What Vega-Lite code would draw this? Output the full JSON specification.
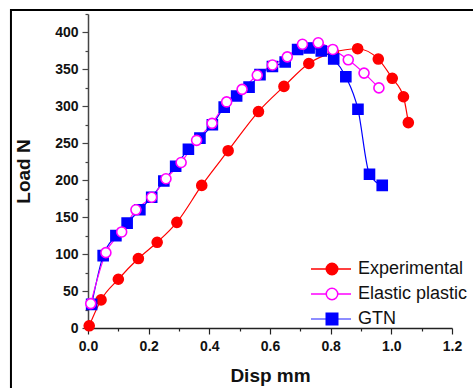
{
  "$schema": "https://vega.github.io/schema/vega-lite/v6.json",
  "width": 364,
  "height": 314,
  "autosize": {"type": "none"},
  "padding": {"left": 88, "top": 14, "right": 21, "bottom": 60},
  "background": "white",
  "config": {"view": {"stroke": null}, "font": "Liberation Sans", "axis": {"labelOverlap": false}},
  "datasets": {
    "curves": [
      {"series": "Experimental", "disp": 0.004, "load": 3},
      {"series": "Experimental", "disp": 0.043, "load": 38},
      {"series": "Experimental", "disp": 0.100, "load": 66},
      {"series": "Experimental", "disp": 0.166, "load": 94},
      {"series": "Experimental", "disp": 0.228, "load": 116},
      {"series": "Experimental", "disp": 0.293, "load": 143},
      {"series": "Experimental", "disp": 0.375, "load": 193},
      {"series": "Experimental", "disp": 0.462, "load": 240},
      {"series": "Experimental", "disp": 0.562, "load": 293},
      {"series": "Experimental", "disp": 0.646, "load": 327},
      {"series": "Experimental", "disp": 0.728, "load": 358},
      {"series": "Experimental", "disp": 0.809, "load": 373},
      {"series": "Experimental", "disp": 0.889, "load": 378},
      {"series": "Experimental", "disp": 0.957, "load": 364},
      {"series": "Experimental", "disp": 1.003, "load": 338},
      {"series": "Experimental", "disp": 1.040, "load": 313},
      {"series": "Experimental", "disp": 1.056, "load": 278},
      {"series": "GTN", "disp": 0.012, "load": 32},
      {"series": "GTN", "disp": 0.050, "load": 98},
      {"series": "GTN", "disp": 0.092, "load": 125},
      {"series": "GTN", "disp": 0.129, "load": 142},
      {"series": "GTN", "disp": 0.171, "load": 160},
      {"series": "GTN", "disp": 0.210, "load": 177},
      {"series": "GTN", "disp": 0.250, "load": 199},
      {"series": "GTN", "disp": 0.289, "load": 219},
      {"series": "GTN", "disp": 0.331, "load": 242},
      {"series": "GTN", "disp": 0.369, "load": 257},
      {"series": "GTN", "disp": 0.410, "load": 275},
      {"series": "GTN", "disp": 0.449, "load": 299},
      {"series": "GTN", "disp": 0.490, "load": 314},
      {"series": "GTN", "disp": 0.531, "load": 326},
      {"series": "GTN", "disp": 0.567, "load": 343},
      {"series": "GTN", "disp": 0.608, "load": 354},
      {"series": "GTN", "disp": 0.650, "load": 360},
      {"series": "GTN", "disp": 0.691, "load": 377},
      {"series": "GTN", "disp": 0.729, "load": 379},
      {"series": "GTN", "disp": 0.769, "load": 375},
      {"series": "GTN", "disp": 0.810, "load": 364},
      {"series": "GTN", "disp": 0.850, "load": 340},
      {"series": "GTN", "disp": 0.890, "load": 296},
      {"series": "GTN", "disp": 0.928, "load": 208},
      {"series": "GTN", "disp": 0.970, "load": 193},
      {"series": "Elastic plastic", "disp": 0.009, "load": 33},
      {"series": "Elastic plastic", "disp": 0.059, "load": 102},
      {"series": "Elastic plastic", "disp": 0.111, "load": 130},
      {"series": "Elastic plastic", "disp": 0.158, "load": 160},
      {"series": "Elastic plastic", "disp": 0.210, "load": 177},
      {"series": "Elastic plastic", "disp": 0.257, "load": 202},
      {"series": "Elastic plastic", "disp": 0.307, "load": 224},
      {"series": "Elastic plastic", "disp": 0.358, "load": 254},
      {"series": "Elastic plastic", "disp": 0.409, "load": 277},
      {"series": "Elastic plastic", "disp": 0.457, "load": 306},
      {"series": "Elastic plastic", "disp": 0.508, "load": 323},
      {"series": "Elastic plastic", "disp": 0.558, "load": 342},
      {"series": "Elastic plastic", "disp": 0.608, "load": 356},
      {"series": "Elastic plastic", "disp": 0.657, "load": 367},
      {"series": "Elastic plastic", "disp": 0.707, "load": 384},
      {"series": "Elastic plastic", "disp": 0.759, "load": 386},
      {"series": "Elastic plastic", "disp": 0.807, "load": 377},
      {"series": "Elastic plastic", "disp": 0.858, "load": 363},
      {"series": "Elastic plastic", "disp": 0.910, "load": 345},
      {"series": "Elastic plastic", "disp": 0.959, "load": 325}
    ]
  },
  "layer": [
    {
      "data": {"values": [{}]},
      "mark": {"type": "rect", "filled": false, "color": "black", "strokeWidth": 2, "clip": false},
      "encoding": {
        "x": {"datum": -0.254, "type": "quantitative"},
        "x2": {"datum": 1.6},
        "y": {"datum": 430.5, "type": "quantitative"},
        "y2": {"datum": -200}
      }
    },
    {
      "data": {"name": "curves"},
      "mark": {"type": "line", "interpolate": "monotone", "strokeWidth": 1.2},
      "encoding": {
        "x": {
          "field": "disp", "type": "quantitative",
          "scale": {"domain": [0, 1.2], "nice": false, "zero": false},
          "axis": {
            "values": [0, 0.1, 0.2, 0.3, 0.4, 0.5, 0.6, 0.7, 0.8, 0.9, 1.0, 1.1, 1.2],
            "tickCount": 100,
            "labelExpr": "round(datum.value*10) % 2 == 0 ? format(datum.value, '.1f') : ''",
            "tickSize": {"condition": {"test": "round(datum.value*10) % 2 == 0", "value": 6}, "value": 3},
            "grid": false,
            "labelOverlap": false,
            "labelFlush": false,
            "labelFont": "Liberation Sans", "labelFontSize": 14, "labelFontWeight": "bold", "labelColor": "#111",
            "labelPadding": 5,
            "domainColor": "#222", "domainWidth": 1.5, "tickColor": "#222", "tickWidth": 1.2,
            "title": "Disp mm",
            "titleFont": "Liberation Sans", "titleFontSize": 19, "titleFontWeight": "bold", "titleColor": "#111",
            "titlePadding": 13
          }
        },
        "y": {
          "field": "load", "type": "quantitative",
          "scale": {"domain": [0, 425], "nice": false, "zero": false},
          "axis": {
            "values": [0, 25, 50, 75, 100, 125, 150, 175, 200, 225, 250, 275, 300, 325, 350, 375, 400, 425],
            "tickCount": 100,
            "labelExpr": "datum.value % 50 == 0 ? datum.label : ''",
            "tickSize": {"condition": {"test": "datum.value % 50 == 0", "value": 6}, "value": 3},
            "grid": false,
            "labelOverlap": false,
            "labelFlush": false,
            "labelFont": "Liberation Sans", "labelFontSize": 14, "labelFontWeight": "bold", "labelColor": "#111",
            "labelPadding": 4,
            "domainColor": "#444", "domainWidth": 1.5, "tickColor": "#444", "tickWidth": 1.2,
            "title": "Load N",
            "titleFont": "Liberation Sans", "titleFontSize": 19, "titleFontWeight": "bold", "titleColor": "#111",
            "titlePadding": 21
          }
        },
        "color": {
          "field": "series", "type": "nominal",
          "scale": {"domain": ["Experimental", "Elastic plastic", "GTN"], "range": ["#ff0000", "#ff00ff", "#0000ff"]},
          "legend": {
            "orient": "none", "legendX": 222, "legendY": 246,
            "title": null, "padding": 0,
            "labelFont": "Liberation Sans", "labelFontSize": 18, "labelFontWeight": "normal", "labelColor": "#111",
            "symbolType": "stroke", "symbolSize": 1600, "symbolStrokeWidth": 1.3,
            "clipHeight": 18, "labelOffset": 6, "rowPadding": 7,
            "encoding": {
              "symbols": {
                "strokeOpacity": {"value": {"expr": "datum.value === 'GTN' ? 0.6 : 1"}}
              }
            }
          }
        }
      }
    },
    {
      "data": {"name": "curves"},
      "mark": {"type": "point", "strokeWidth": 1.6, "opacity": 1, "fillOpacity": 1, "size": 100},
      "encoding": {
        "x": {"field": "disp", "type": "quantitative"},
        "y": {"field": "load", "type": "quantitative"},
        "shape": {
          "field": "series", "type": "nominal",
          "sort": ["Experimental", "Elastic plastic", "GTN"],
          "scale": {"range": ["circle", "circle", "square"]},
          "legend": {
            "orient": "none", "legendX": 235, "legendY": 246,
            "title": null, "padding": 0, "zindex": 1,
            "labelFont": "Liberation Sans", "labelFontSize": 18, "labelExpr": "''",
            "symbolSize": 132, "symbolStrokeWidth": 1.5,
            "clipHeight": 18, "labelOffset": 20, "rowPadding": 7,
            "encoding": {
              "symbols": {
                "fill": {"value": {"expr": "datum.value === 'GTN' ? '#0000ff' : datum.value === 'Experimental' ? '#ff0000' : '#ffffff'"}},
                "stroke": {"value": {"expr": "datum.value === 'GTN' ? '#0000ff' : datum.value === 'Experimental' ? '#ff0000' : '#ff00ff'"}},
                "fillOpacity": {"value": 1},
                "opacity": {"value": 1},
                "strokeWidth": {"value": 1.5}
              }
            }
          }
        },
        "fill": {
          "field": "series", "type": "nominal",
          "sort": ["Experimental", "Elastic plastic", "GTN"],
          "scale": {"range": ["#ff0000", "#ffffff", "#0000ff"]},
          "legend": null
        },
        "stroke": {
          "field": "series", "type": "nominal",
          "sort": ["Experimental", "Elastic plastic", "GTN"],
          "scale": {"range": ["#ff0000", "#ff00ff", "#0000ff"]},
          "legend": null
        }
      }
    }
  ]
}
